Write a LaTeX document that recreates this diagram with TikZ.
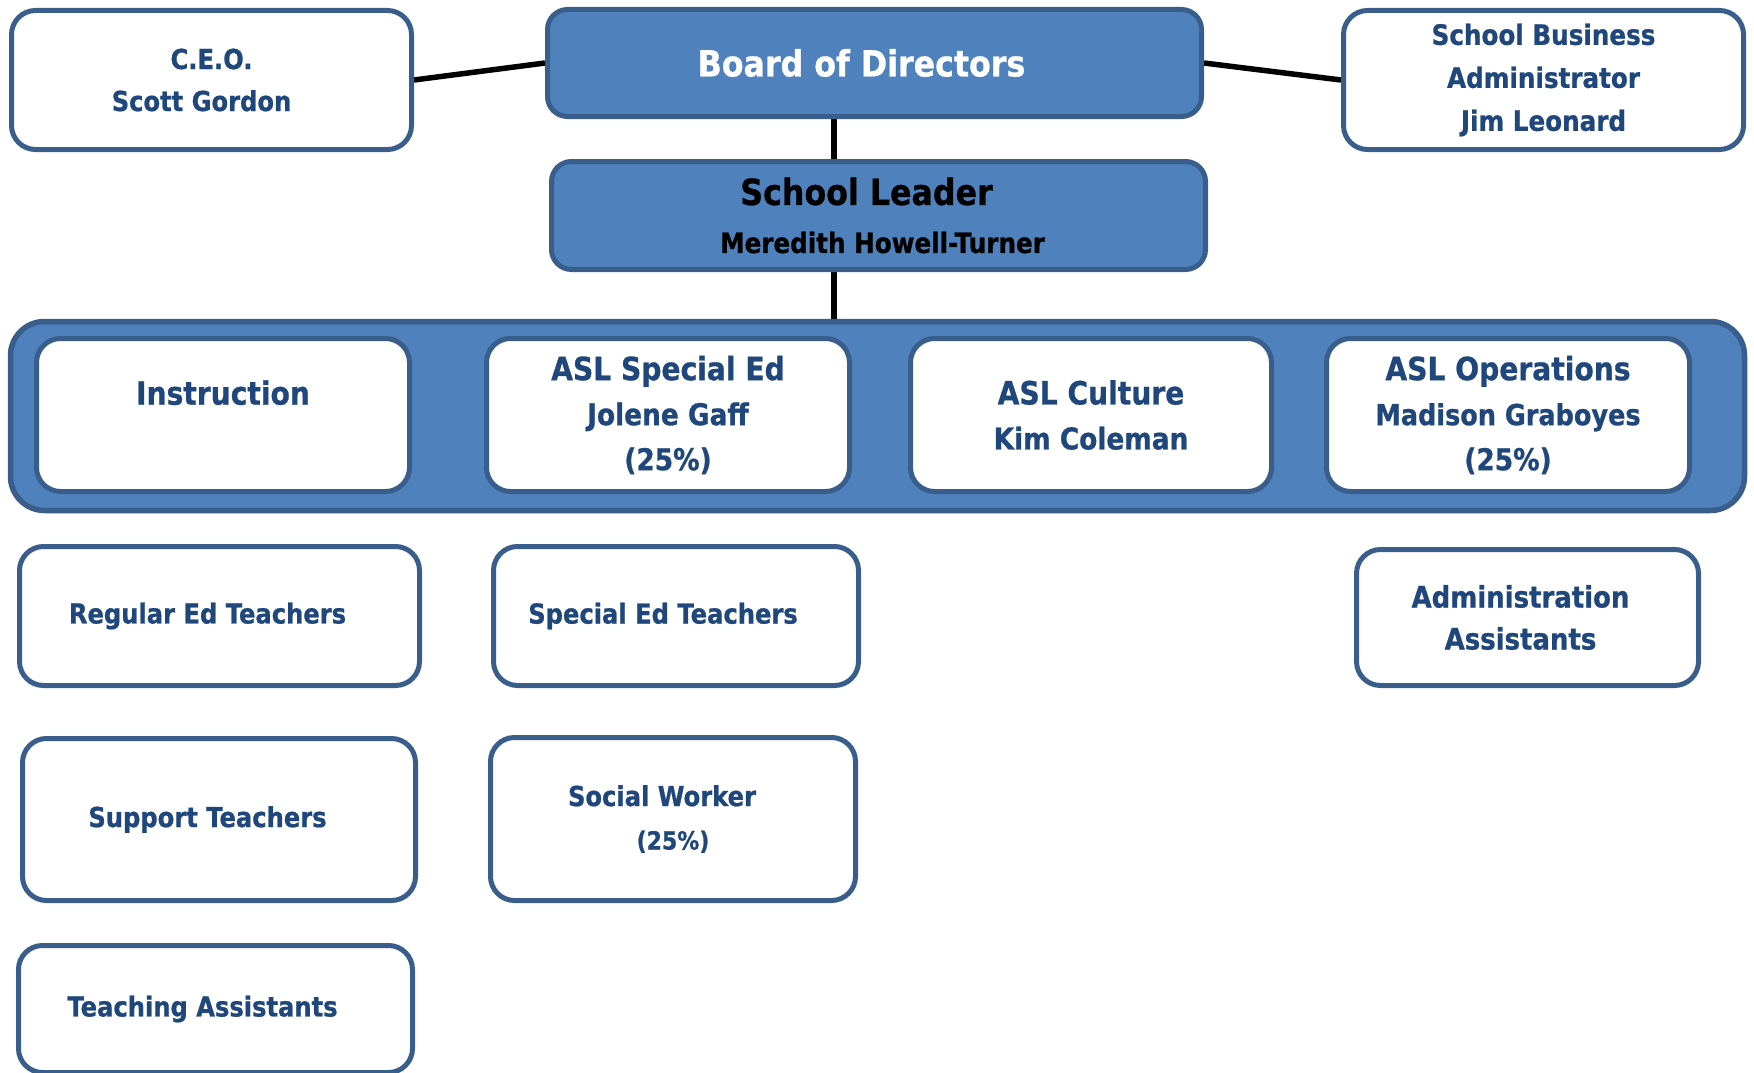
\documentclass[tikz,border=0pt]{standalone}
\usepackage{fontspec}
\setmainfont{DejaVu Sans}[FakeStretch=0.88,BoldFeatures={FakeBold=0.8}]
\usetikzlibrary{backgrounds}
\definecolor{fillblue}{HTML}{4F81BD}
\definecolor{edge}{HTML}{3A5E8C}
\definecolor{txt}{HTML}{1F477B}
\begin{document}
\begin{tikzpicture}[x=1pt,y=-1pt,
  wbox/.style={draw=edge, line width=5pt, fill=white, rounded corners=24pt,
    text=txt, font=\bfseries\fontsize{27.5}{42}\selectfont, align=center, inner sep=0pt},
  topbox/.style={draw=edge, line width=5pt, fill=fillblue, rounded corners=20pt,
    align=center, inner sep=0pt},
  bandbox/.style={draw=edge, line width=5.5pt, fill=fillblue, rounded corners=34pt, inner sep=0pt},
  inbox/.style={wbox, font=\bfseries\fontsize{30}{45}\selectfont},
  conn/.style={line width=5.5pt, black}]
\path[use as bounding box] (0,0) rectangle (1754,1073);

% top row
\node[wbox, minimum width=400pt, minimum height=139pt] (ceo) at (211.5,80)
  {C.E.O.\\\mbox{Scott Gordon\kern20pt}};
\node[topbox, minimum width=654pt, minimum height=107pt, text=white,
  font=\bfseries\fontsize{36}{40}\selectfont] (board) at (874.5,63)
  {\mbox{Board of Directors\kern26pt}};
\node[wbox, minimum width=400pt, minimum height=139pt, font=\bfseries\fontsize{28}{43}\selectfont]
  (sba) at (1543.5,80) {School Business\\Administrator\\Jim Leonard};
\node[topbox, minimum width=654pt, minimum height=108pt, text=black,
  font=\bfseries\fontsize{28}{48}\selectfont] (leader) at (878.5,215.5)
  {{\fontsize{36}{48}\selectfont\mbox{School Leader\kern24pt}}\\\mbox{\kern8pt Meredith Howell-Turner}};

% band
\node[bandbox, minimum width=1734pt, minimum height=189pt] (band) at (877.5,416) {};
\node[inbox, minimum width=373pt, minimum height=153pt] (instr) at (223,415)
  {{\fontsize{32}{45}\selectfont Instruction}\\\phantom{X}};
\node[inbox, minimum width=363pt, minimum height=153pt] (sped) at (668,415)
  {{\fontsize{32}{45}\selectfont ASL Special Ed}\\Jolene Gaff\\(25\%)};
\node[inbox, minimum width=361pt, minimum height=153pt] (cult) at (1091,415)
  {{\fontsize{32}{45}\selectfont ASL Culture}\\Kim Coleman};
\node[inbox, minimum width=363pt, minimum height=153pt, font=\bfseries\fontsize{29}{45}\selectfont] (ops) at (1508,415)
  {{\fontsize{32}{45}\selectfont ASL Operations}\\Madison Graboyes\\{\fontsize{30}{45}\selectfont (25\%)}};

% lower boxes
\node[wbox, minimum width=400pt, minimum height=139pt] (reg) at (219.5,616)
  {\mbox{Regular Ed Teachers\kern24pt}};
\node[wbox, minimum width=365pt, minimum height=139pt] (spt) at (676,616)
  {\mbox{Special Ed Teachers\kern26pt}};
\node[wbox, minimum width=342pt, minimum height=136pt, font=\bfseries\fontsize{29.5}{42}\selectfont] (adm) at (1527.5,617.5)
  {\mbox{Administration\kern14pt}\\\mbox{Assistants\kern14pt}};
\node[wbox, minimum width=393pt, minimum height=162pt] (sup) at (219,819.5)
  {\mbox{Support Teachers\kern23pt}};
\node[wbox, minimum width=365pt, minimum height=163pt, font=\bfseries\fontsize{27.5}{43.5}\selectfont] (sw) at (673,819)
  {\mbox{Social Worker\kern22pt}\\{\fontsize{25}{43.5}\selectfont (25\%)}};
\node[wbox, minimum width=394pt, minimum height=127pt] (ta) at (215.5,1009)
  {\mbox{Teaching Assistants\kern26pt}};

% connectors
\coordinate (cx) at (834,0);
\begin{scope}[on background layer]
\draw[conn] (ceo.east) -- (board.west);
\draw[conn] (board.east) -- (sba.west);
\draw[conn] (board.south -| cx) -- (leader.north -| cx);
\draw[conn] (leader.south -| cx) -- (band.north -| cx);
\end{scope}
\end{tikzpicture}
\end{document}
